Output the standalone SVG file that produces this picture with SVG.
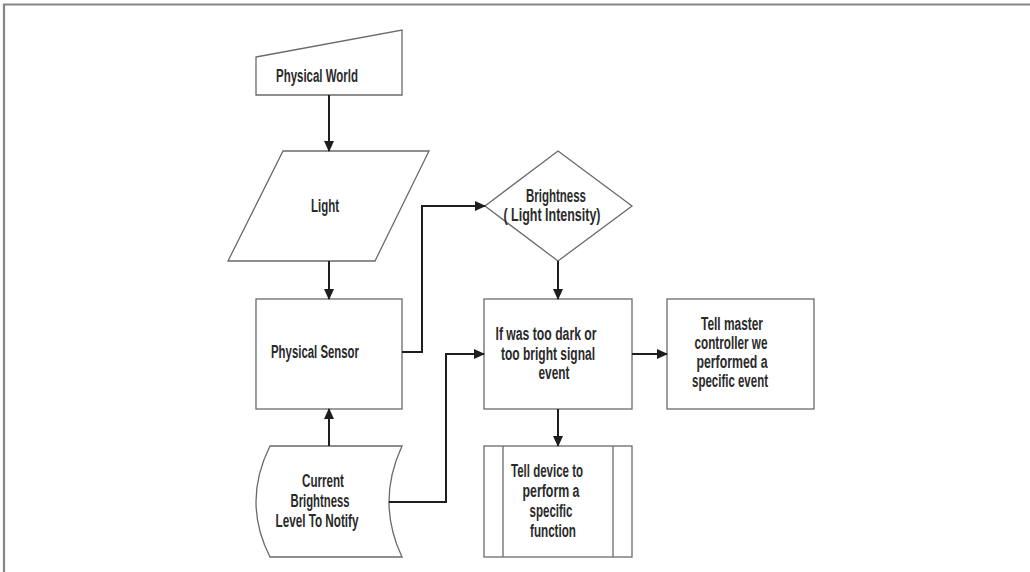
<svg xmlns="http://www.w3.org/2000/svg" width="1030" height="572" viewBox="0 0 1030 572">
  <style>
    .shape { fill: #ffffff; stroke: #6a6a6a; stroke-width: 1.3; }
    .conn { fill: none; stroke: #1e1e1e; stroke-width: 2; marker-end: url(#arrow); }
    .label { font-family: "Liberation Sans Narrow", "Liberation Sans", Arial, sans-serif; font-weight: bold; font-size: 17.5px; fill: #2a2a2a; }
    .mid { text-anchor: middle; }
  </style>
  <defs>
    <marker id="arrow" markerUnits="userSpaceOnUse" markerWidth="11" markerHeight="10" refX="10" refY="5" orient="auto">
      <path d="M0,0 L11,5 L0,10 Z" fill="#1e1e1e"/>
    </marker>
  </defs>

  <rect width="1030" height="572" fill="#ffffff"/>
  <!-- page frame: top and left rules -->
  <path d="M4,572 V4.5 H1030" fill="none" stroke="#858585" stroke-width="2.2"/>

  <g id="physical-world">
    <path class="shape" d="M256,57 L402,30 L402,95 L256,95 Z"/>
    <text class="label" x="276" y="82" textLength="82" lengthAdjust="spacingAndGlyphs">Physical World</text>
  </g>

  <g id="light">
    <path class="shape" d="M283,151 L429,151 L375,261 L228,261 Z"/>
    <text class="label mid" x="325" y="212" textLength="28" lengthAdjust="spacingAndGlyphs">Light</text>
  </g>

  <g id="physical-sensor">
    <rect class="shape" x="256" y="299" width="146" height="110"/>
    <text class="label" x="271" y="358" textLength="88" lengthAdjust="spacingAndGlyphs">Physical Sensor</text>
  </g>

  <g id="current-brightness">
    <path class="shape" d="M270,446 L402,446 Q376,502 402,557 L270,557 Q242,502 270,446 Z"/>
    <text class="label mid" x="323" y="487" textLength="42" lengthAdjust="spacingAndGlyphs">Current</text>
    <text class="label mid" x="320" y="507" textLength="59" lengthAdjust="spacingAndGlyphs">Brightness</text>
    <text class="label mid" x="317" y="527" textLength="83" lengthAdjust="spacingAndGlyphs">Level To Notify</text>
  </g>

  <g id="brightness">
    <path class="shape" d="M558,151 L632,206 L558,261 L485,206 Z"/>
    <text class="label mid" x="556" y="202" textLength="60" lengthAdjust="spacingAndGlyphs">Brightness</text>
    <text class="label mid" x="552" y="221" textLength="97" lengthAdjust="spacingAndGlyphs">( Light Intensity)</text>
  </g>

  <g id="check-level">
    <rect class="shape" x="484" y="299" width="148" height="110"/>
    <text class="label mid" x="546" y="340" textLength="101" lengthAdjust="spacingAndGlyphs">If was too dark or</text>
    <text class="label mid" x="548" y="360" textLength="94" lengthAdjust="spacingAndGlyphs">too bright signal</text>
    <text class="label mid" x="554" y="379" textLength="31" lengthAdjust="spacingAndGlyphs">event</text>
  </g>

  <g id="tell-master">
    <rect class="shape" x="667" y="299" width="147" height="110"/>
    <text class="label mid" x="732" y="330" textLength="62" lengthAdjust="spacingAndGlyphs">Tell master</text>
    <text class="label mid" x="731" y="349" textLength="73" lengthAdjust="spacingAndGlyphs">controller we</text>
    <text class="label mid" x="732" y="368" textLength="71" lengthAdjust="spacingAndGlyphs">performed a</text>
    <text class="label mid" x="730" y="387" textLength="76" lengthAdjust="spacingAndGlyphs">specific event</text>
  </g>

  <g id="tell-device">
    <rect class="shape" x="484" y="446" width="148" height="111"/>
    <line class="shape" x1="503" y1="446" x2="503" y2="557"/>
    <line class="shape" x1="613" y1="446" x2="613" y2="557"/>
    <text class="label mid" x="547" y="477" textLength="72" lengthAdjust="spacingAndGlyphs">Tell device to</text>
    <text class="label mid" x="551" y="497" textLength="57" lengthAdjust="spacingAndGlyphs">perform a</text>
    <text class="label mid" x="551" y="517" textLength="43" lengthAdjust="spacingAndGlyphs">specific</text>
    <text class="label mid" x="553" y="537" textLength="46" lengthAdjust="spacingAndGlyphs">function</text>
  </g>

  <g id="connectors">
    <path class="conn" d="M329,95 V151"/>
    <path class="conn" d="M329,261 V299"/>
    <path class="conn" d="M402,352 H422 V206 H485"/>
    <path class="conn" d="M558,261 V299"/>
    <path class="conn" d="M632,354 H667"/>
    <path class="conn" d="M558,409 V446"/>
    <path class="conn" d="M329,446 V409"/>
    <path class="conn" d="M389,502 H446 V354 H484"/>
  </g>
</svg>
